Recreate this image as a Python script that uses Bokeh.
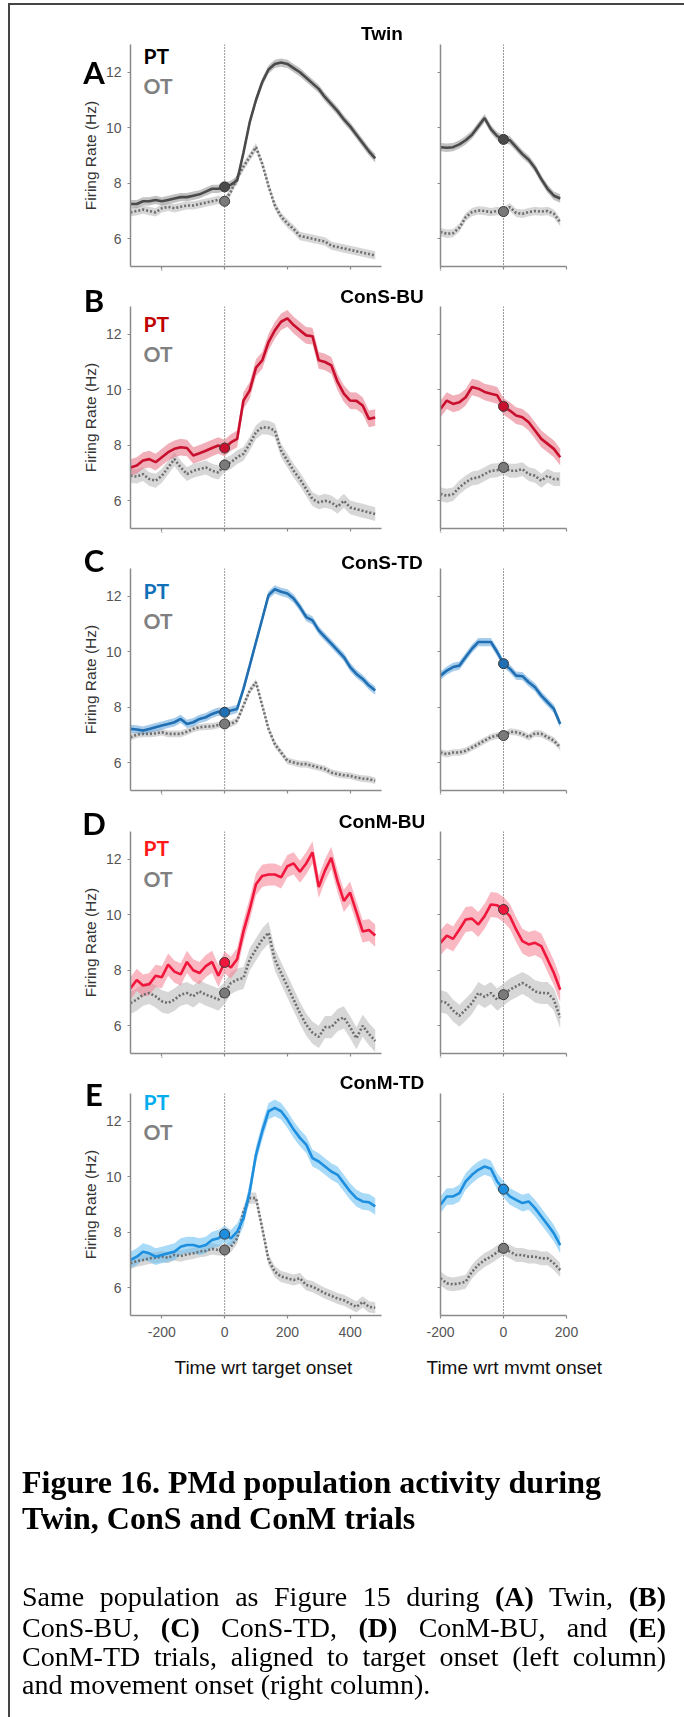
from bokeh.plotting import figure
from bokeh.layouts import column, row
from bokeh.models import Div, Label, Span, FixedTicker, Range1d, CustomJSTickFormatter, Title
from bokeh.embed import file_html
from bokeh.resources import INLINE

# ---------------- data ----------------
t_target = list(range(-300, 481, 20))   # time wrt target onset (ms)
t_mvmt = list(range(-200, 181, 20))     # time wrt movement onset (ms)

panel_letters = ["A", "B", "C", "D", "E"]
panel_titles = ["Twin", "ConS-BU", "ConS-TD", "ConM-BU", "ConM-TD"]
target_ticks = [-200, 0, 200, 400]
mvmt_ticks = [-200, 0, 200]
rate_ticks = [6, 8, 10, 12]
x_label_target = "Time wrt target onset"
x_label_mvmt = "Time wrt mvmt onset"
y_label = "Firing Rate (Hz)"

# Twin
twin_pt_target = [7.25, 7.25, 7.35, 7.35, 7.4, 7.35, 7.4, 7.45, 7.5, 7.5,
                  7.55, 7.6, 7.7, 7.8, 7.8, 7.87, 7.95, 8.1, 9.1, 10.2,
                  11.0, 11.65, 12.1, 12.3, 12.35, 12.3, 12.15, 12.0, 11.8, 11.6,
                  11.4, 11.1, 10.85, 10.6, 10.3, 10.05, 9.75, 9.45, 9.15, 8.9]
twin_ot_target = [6.95, 7.0, 7.05, 7.0, 6.95, 7.1, 7.15, 7.1, 7.15, 7.2,
                  7.2, 7.25, 7.3, 7.35, 7.4, 7.35, 7.7, 8.2, 8.6, 8.95,
                  9.3, 8.7, 7.9, 7.2, 6.8, 6.55, 6.35, 6.1, 6.05, 6.0,
                  5.95, 5.9, 5.75, 5.7, 5.65, 5.6, 5.55, 5.5, 5.45, 5.4]
twin_pt_mvmt = [9.3, 9.28, 9.3, 9.4, 9.55, 9.75, 10.05, 10.35, 9.95, 9.7,
                9.58, 9.55, 9.3, 9.05, 8.85, 8.55, 8.15, 7.8, 7.55, 7.45]
twin_ot_mvmt = [6.24, 6.18, 6.2, 6.4, 6.78, 6.96, 7.02, 7.0, 6.96, 7.0,
                6.98, 7.14, 6.93, 6.9, 6.96, 7.0, 6.98, 7.0, 6.9, 6.6]

# ConS-BU
consbu_pt_target = [7.2, 7.27, 7.45, 7.5, 7.39, 7.57, 7.75, 7.87, 7.93, 7.9,
                    7.63, 7.71, 7.8, 7.9, 7.99, 7.9, 8.1, 8.23, 9.61, 9.98,
                    10.8, 11.06, 11.72, 12.14, 12.45, 12.57, 12.33, 12.14, 11.96, 11.93,
                    11.06, 11.0, 10.88, 10.28, 9.86, 9.61, 9.6, 9.43, 8.95, 9.0]
consbu_ot_target = [6.9, 6.87, 6.96, 6.78, 6.72, 6.9, 7.2, 7.5, 7.2, 6.96,
                    7.08, 7.14, 7.2, 7.08, 7.02, 7.29, 7.39, 7.57, 7.69, 8.05,
                    8.47, 8.65, 8.63, 8.53, 7.81, 7.45, 7.08, 6.78, 6.42, 6.06,
                    5.94, 6.0, 5.94, 5.78, 6.0, 5.76, 5.7, 5.64, 5.58, 5.52]
consbu_pt_mvmt = [9.31, 9.61, 9.49, 9.55, 9.73, 10.1, 10.04, 9.92, 9.86, 9.8,
                  9.4, 9.25, 9.07, 9.01, 8.83, 8.53, 8.23, 8.05, 7.87, 7.57]
consbu_ot_mvmt = [6.24, 6.18, 6.24, 6.48, 6.66, 6.8, 6.84, 6.96, 7.08, 7.1,
                  7.2, 7.08, 7.08, 7.14, 6.96, 6.9, 6.72, 6.9, 6.78, 6.78]

# ConS-TD
constd_pt_target = [7.22, 7.2, 7.16, 7.22, 7.28, 7.34, 7.4, 7.46, 7.58, 7.4,
                    7.46, 7.58, 7.64, 7.76, 7.84, 7.82, 7.88, 7.94, 8.66, 9.5,
                    10.35, 11.19, 12.04, 12.25, 12.16, 12.1, 11.92, 11.61, 11.25, 11.13,
                    10.77, 10.53, 10.29, 10.05, 9.81, 9.45, 9.2, 9.02, 8.78, 8.6]
constd_ot_target = [6.92, 7.01, 7.04, 7.04, 7.06, 7.1, 7.04, 7.04, 7.04, 7.12,
                    7.22, 7.28, 7.3, 7.31, 7.36, 7.4, 7.4, 7.52, 8.06, 8.6,
                    8.9, 8.06, 7.22, 6.67, 6.37, 6.07, 6.01, 5.95, 5.95, 5.89,
                    5.83, 5.77, 5.65, 5.59, 5.55, 5.53, 5.47, 5.43, 5.41, 5.35]
constd_pt_mvmt = [9.14, 9.32, 9.45, 9.5, 9.81, 10.11, 10.35, 10.35, 10.35, 9.99,
                  9.57, 9.39, 9.14, 9.12, 8.9, 8.72, 8.42, 8.18, 7.94, 7.4]
constd_ot_mvmt = [6.37, 6.31, 6.37, 6.37, 6.43, 6.55, 6.67, 6.8, 6.92, 6.98,
                  6.98, 7.12, 7.1, 7.04, 6.92, 7.06, 7.04, 6.92, 6.8, 6.55]

# ConM-BU
conmbu_pt_target = [7.35, 7.65, 7.45, 7.5, 7.8, 7.75, 8.2, 7.95, 7.85, 8.3,
                    8.0, 7.9, 8.15, 8.3, 7.8, 8.28, 8.1, 8.4, 9.4, 10.2,
                    11.1, 11.4, 11.45, 11.45, 11.35, 11.75, 11.85, 11.55, 11.85, 12.25,
                    11.0, 11.6, 12.05, 11.2, 10.5, 10.8, 10.1, 9.4, 9.45, 9.25]
conmbu_ot_target = [6.82, 6.94, 7.12, 7.18, 7.06, 6.88, 6.82, 6.94, 7.12, 7.18,
                    7.06, 7.24, 7.12, 7.04, 6.94, 7.18, 7.54, 7.66, 7.72, 8.39,
                    8.75, 9.11, 9.35, 8.39, 7.9, 7.42, 6.94, 6.46, 6.04, 5.75,
                    5.6, 5.95, 5.95, 6.2, 6.3, 5.95, 5.55, 6.0, 5.7, 5.45]
conmbu_pt_mvmt = [8.99, 9.25, 9.13, 9.47, 9.83, 9.86, 9.65, 9.95, 10.37, 10.34,
                  10.19, 9.95, 9.47, 9.05, 8.93, 8.99, 8.87, 8.39, 7.9, 7.3]
conmbu_ot_mvmt = [6.88, 6.82, 6.55, 6.36, 6.58, 6.82, 7.18, 7.04, 7.18, 6.94,
                  7.12, 7.3, 7.42, 7.54, 7.42, 7.24, 7.18, 7.18, 6.94, 6.3]

# ConM-TD
conmtd_pt_target = [7.0, 7.12, 7.3, 7.24, 7.12, 7.18, 7.24, 7.3, 7.48, 7.54,
                    7.54, 7.48, 7.54, 7.72, 7.78, 7.93, 7.78, 8.02, 8.5, 9.47,
                    10.8, 11.64, 12.36, 12.48, 12.36, 12.06, 11.7, 11.4, 11.16, 10.67,
                    10.55, 10.37, 10.19, 10.07, 9.77, 9.47, 9.23, 9.11, 9.08, 8.93]
conmtd_ot_target = [6.88, 6.96, 7.0, 7.06, 7.08, 7.12, 7.08, 7.18, 7.14, 7.2,
                    7.24, 7.3, 7.33, 7.4, 7.36, 7.36, 7.48, 7.78, 8.75, 9.23,
                    9.23, 8.14, 7.0, 6.58, 6.4, 6.34, 6.28, 6.34, 6.1, 6.04,
                    5.92, 5.8, 5.71, 5.61, 5.55, 5.43, 5.31, 5.49, 5.31, 5.28]
conmtd_pt_mvmt = [8.99, 9.29, 9.29, 9.41, 9.83, 10.07, 10.25, 10.37, 10.29, 9.83,
                  9.55, 9.29, 9.17, 9.05, 9.11, 8.87, 8.57, 8.27, 7.96, 7.54]
conmtd_ot_mvmt = [6.34, 6.16, 6.12, 6.16, 6.22, 6.58, 6.82, 7.0, 7.12, 7.28,
                  7.42, 7.3, 7.18, 7.18, 7.12, 7.12, 7.06, 7.06, 6.88, 6.64]

# half-width of the shaded error band (Hz): PT target, OT target, PT mvmt, OT mvmt
twin_sem = [0.15, 0.15, 0.15, 0.15]
consbu_sem = [0.3, 0.25, 0.3, 0.25]
constd_sem = [0.15, 0.12, 0.15, 0.12]
conmbu_sem = [0.4, 0.4, 0.45, 0.4]
conmtd_sem = [0.3, 0.2, 0.3, 0.25]

caption_title_lines = ["Figure 16. PMd population activity during",
                       "Twin, ConS and ConM trials"]
caption_body_lines = ["Same population as Figure 15 during <b>(A)</b> Twin, <b>(B)</b>",
                      "ConS-BU, <b>(C)</b> ConS-TD, <b>(D)</b> ConM-BU, and <b>(E)</b>",
                      "ConM-TD trials, aligned to target onset (left column)",
                      "and movement onset (right column)."]

pt_target_all = [twin_pt_target, consbu_pt_target, constd_pt_target, conmbu_pt_target, conmtd_pt_target]
ot_target_all = [twin_ot_target, consbu_ot_target, constd_ot_target, conmbu_ot_target, conmtd_ot_target]
pt_mvmt_all = [twin_pt_mvmt, consbu_pt_mvmt, constd_pt_mvmt, conmbu_pt_mvmt, conmtd_pt_mvmt]
ot_mvmt_all = [twin_ot_mvmt, consbu_ot_mvmt, constd_ot_mvmt, conmbu_ot_mvmt, conmtd_ot_mvmt]
sem_all = [twin_sem, consbu_sem, constd_sem, conmbu_sem, conmtd_sem]

# ---------------- styles / layout ----------------
pt_line_colors = ["#4a4a4a", "#c8102e", "#1f6fb2", "#f0173d", "#1e8fdf"]
pt_band_colors = ["#8f8f8f", "#e66d80", "#5fa3da", "#f57d91", "#62bbf2"]
pt_text_colors = ["#000000", "#c00000", "#1070b8", "#ff1a1a", "#00aeef"]
ot_line_color = "#6e6e6e"
ot_band_color = "#bdbdbd"
ot_text_color = "#808080"
axis_color = "#8a8a8a"

FRAME_H = 222
FW_L, FW_R = 251, 126
L_BL, L_BR = 130, 30
R_BL, R_BR = 29, 102
border_top = [44, 30, 30, 30, 30]
border_bottom = [10, 10, 11, 10, 90]
legend_dx = 13
legend_pt_dy = [11, 17, 22, 16, 8]
legend_ot_dy = [41, 47, 52, 47, 38]
xlabel_offset = [44, -14]          # px from frame left edge to x-axis title start
# window-pixel positions of the panel letters / titles and caption lines
letter_cx = 94
letter_cy = [72, 300, 560, 823, 1094]
title_cx = 382
title_cy = [34, 297, 563, 822, 1083]
cap_left, cap_width = 22, 644
cap_title_cy = [1482, 1518]
cap_body_cy = [1597, 1628, 1657, 1685]

Y0, Y1 = 5, 13


def to_data(xr, fw, dx, dy):
    x = xr[0] + dx * (xr[1] - xr[0]) / fw
    y = Y1 - dy * (Y1 - Y0) / FRAME_H
    return x, y


blank = CustomJSTickFormatter(code="return ''")


def style(p, xticks, show_xlab, show_ylab):
    p.xgrid.visible = False
    p.ygrid.visible = False
    p.outline_line_color = None
    for ax in (p.xaxis[0], p.yaxis[0]):
        ax.axis_line_color = axis_color
        ax.axis_line_width = 1.5
        ax.major_tick_line_color = axis_color
        ax.major_tick_line_width = 1.2
        ax.major_tick_in = 0
        ax.major_tick_out = 3
        ax.minor_tick_line_color = None
        ax.major_label_text_font = "Liberation Sans"
        ax.major_label_text_font_size = "14px"
        ax.major_label_text_color = "#555555"
        ax.axis_label_text_font = "Liberation Sans"
        ax.axis_label_text_font_style = "normal"
    p.xaxis.ticker = FixedTicker(ticks=xticks)
    p.yaxis.ticker = FixedTicker(ticks=rate_ticks)
    p.xaxis.major_label_standoff = 8
    p.yaxis.major_label_standoff = 6
    p.xaxis.major_label_overrides = {-200: "-200"}
    if not show_xlab:
        p.xaxis.formatter = blank
        p.xaxis.major_label_text_font_size = "1px"
        p.xaxis.major_label_standoff = 0
    if not show_ylab:
        p.yaxis.formatter = blank
        p.yaxis.major_label_text_font_size = "1px"
        p.yaxis.major_label_standoff = 0


def add_xtitle(p, text, offset):
    p.add_layout(Title(text=text, align="left", offset=offset, standoff=30,
                       text_font="Liberation Sans", text_font_style="normal",
                       text_font_size="19px", text_color="#111111"), "below")


def draw_series(p, t, pt, ot, sem_pt, sem_ot, k):
    p.varea(x=t, y1=[v - sem_ot for v in ot], y2=[v + sem_ot for v in ot],
            fill_color=ot_band_color, fill_alpha=0.6)
    p.varea(x=t, y1=[v - sem_pt for v in pt], y2=[v + sem_pt for v in pt],
            fill_color=pt_band_colors[k], fill_alpha=0.55)
    p.add_layout(Span(location=0, dimension="height", line_color="#333333",
                      line_dash="1 2", line_width=1, level="underlay"))
    p.line(x=t, y=ot, line_color=ot_line_color, line_width=2.6, line_dash="2 2")
    p.line(x=t, y=pt, line_color=pt_line_colors[k], line_width=2.6)
    i0 = t.index(0)
    p.scatter(x=[0], y=[ot[i0]], size=10, fill_color="#7a7a7a", line_color="#3a3a3a", line_width=1)
    p.scatter(x=[0], y=[pt[i0]], size=10, fill_color=pt_line_colors[k], line_color="#3a3a3a", line_width=1)


rows = []
for k in range(5):
    h = border_top[k] + FRAME_H + border_bottom[k]
    last = (k == 4)
    # left: aligned to target onset
    xr = (-300, 500)
    pl = figure(width=L_BL + FW_L + L_BR, height=h, x_range=Range1d(*xr), y_range=Range1d(Y0, Y1),
                output_backend="svg", toolbar_location=None,
                min_border_left=L_BL, min_border_right=L_BR,
                min_border_top=border_top[k], min_border_bottom=border_bottom[k])
    style(pl, target_ticks, last, True)
    pl.yaxis.axis_label = y_label
    pl.yaxis.axis_label_text_font_size = "15.5px"
    pl.yaxis.axis_label_text_color = "#333333"
    pl.yaxis.axis_label_standoff = 4
    if last:
        add_xtitle(pl, x_label_target, xlabel_offset[0])
    s = sem_all[k]
    draw_series(pl, t_target, pt_target_all[k], ot_target_all[k], s[0], s[1], k)
    gx, gy = to_data(xr, FW_L, legend_dx, legend_pt_dy[k])
    pl.add_layout(Label(x=gx, y=gy, text="PT", text_font="Lato", text_font_style="bold",
                        text_font_size="21px", text_color=pt_text_colors[k], text_align="left",
                        text_baseline="middle"))
    gx, gy = to_data(xr, FW_L, legend_dx, legend_ot_dy[k])
    pl.add_layout(Label(x=gx, y=gy, text="OT", text_font="Lato", text_font_style="bold",
                        text_font_size="21px", text_color=ot_text_color, text_align="left",
                        text_baseline="middle"))

    # right: aligned to movement onset
    pr = figure(width=R_BL + FW_R + R_BR, height=h, x_range=Range1d(-200, 200), y_range=Range1d(Y0, Y1),
                output_backend="svg", toolbar_location=None,
                min_border_left=R_BL, min_border_right=R_BR,
                min_border_top=border_top[k], min_border_bottom=border_bottom[k])
    style(pr, mvmt_ticks, last, False)
    if last:
        add_xtitle(pr, x_label_mvmt, xlabel_offset[1])
    draw_series(pr, t_mvmt, pt_mvmt_all[k], ot_mvmt_all[k], s[2], s[3], k)
    rows.append(row(pl, pr, spacing=0))

# panel letters, panel titles, caption and the figure frame, pinned to window coordinates
html = ['<div style="position:fixed;left:8px;top:3px;width:676px;height:2px;background:#444;"></div>',
        '<div style="position:fixed;left:8px;top:3px;width:2px;height:1714px;background:#444;"></div>']
for k in range(5):
    html.append(
        '<div style="position:fixed;left:%dpx;top:%dpx;width:40px;height:40px;line-height:40px;'
        'text-align:center;font-family:Lato,sans-serif;font-weight:bold;font-size:31px;color:#000;">%s</div>'
        % (letter_cx - 20, letter_cy[k] - 20, panel_letters[k]))
    html.append(
        '<div style="position:fixed;left:%dpx;top:%dpx;width:200px;height:30px;line-height:30px;'
        'text-align:center;font-family:\'Liberation Sans\',Arial,sans-serif;font-weight:bold;'
        'font-size:19px;color:#000;">%s</div>'
        % (title_cx - 100, title_cy[k] - 15, panel_titles[k]))
serif = "font-family:'Liberation Serif','Times New Roman',serif;color:#000;white-space:nowrap;"
for cy, ln in zip(cap_title_cy, caption_title_lines):
    html.append('<div style="position:fixed;left:%dpx;top:%.1fpx;width:%dpx;height:37px;line-height:37px;'
                '%sfont-weight:bold;font-size:32px;">%s</div>' % (cap_left, cy - 18.5, cap_width, serif, ln))
for i, (cy, ln) in enumerate(zip(cap_body_cy, caption_body_lines)):
    last_align = "justify" if i < 3 else "left"
    html.append('<div style="position:fixed;left:%dpx;top:%.1fpx;width:%dpx;height:30px;line-height:30px;'
                '%sfont-size:28px;text-align:justify;text-align-last:%s;">%s</div>'
                % (cap_left, cy - 15, cap_width, serif.replace("white-space:nowrap;", ""), last_align, ln))

caption = Div(width=668, height=20, text="".join(html))

page = column(*rows, caption, spacing=0)

open("out.html", "w").write(file_html(page, INLINE, title="Figure 16"))
